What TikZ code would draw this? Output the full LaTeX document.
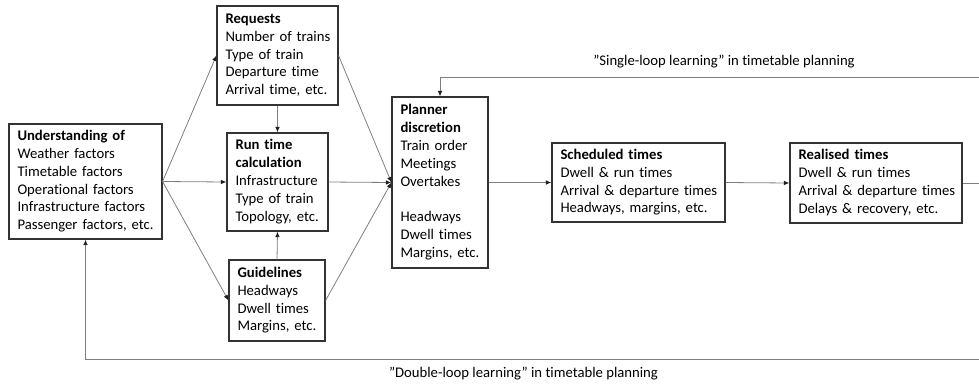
\documentclass[tikz,border=0pt]{standalone}
\usepackage{fontspec}
\setmainfont{Carlito}[Ligatures=NoCommon]
\usetikzlibrary{arrows.meta}

\definecolor{boxline}{HTML}{333333}
\definecolor{wire}{HTML}{7F7F7F}
\definecolor{tip}{HTML}{202020}

\tikzset{
  box/.style={draw=boxline, line width=1.1pt, align=left, inner xsep=8.5pt, inner ysep=0pt,
    font=\fontsize{14.7pt}{17.9pt}\selectfont,
    execute at begin node={\hyphenpenalty=10000\exhyphenpenalty=10000\hbadness=10000\hfuzz=20pt\strut},
    execute at end node=\strut},
  link/.style={draw=wire, line width=0.8pt, -{Latex[length=5.5pt,width=4.5pt,color=tip]}},
  plain/.style={draw=wire, line width=0.8pt},
  loopnote/.style={font=\fontsize{14.7pt}{17.9pt}\selectfont, inner sep=0pt}
}

\begin{document}
\begin{tikzpicture}[x=1pt, y=-1pt]
\useasboundingbox (0,0) rectangle (979,384);

% boxes (ties keep each listed item on one line)
\node[box, minimum width=153pt, minimum height=115pt, text width=136pt] (und) at (85.5,181.5)
  {\textbf{Understanding~of}\\Weather~factors\\Timetable~factors\\Operational~factors\\Infrastructure~factors\\Passenger~factors,~etc.};
\node[box, minimum width=121pt, minimum height=99pt, text width=104pt] (req) at (277.5,55.5)
  {\textbf{Requests}\\Number~of~trains\\Type~of~train\\Departure~time\\Arrival~time,~etc.};
\node[box, minimum width=101pt, minimum height=98pt, text width=84pt] (rt) at (277.5,182)
  {\textbf{Run~time}\\\textbf{calculation}\\Infrastructure\\Type~of~train\\Topology,~etc.};
\node[box, minimum width=96pt, minimum height=81pt, text width=79pt] (gl) at (277,300.5)
  {\textbf{Guidelines}\\Headways\\Dwell~times\\Margins,~etc.};
\node[box, minimum width=96pt, minimum height=171pt, text width=79pt] (pl) at (440,182.5)
  {\textbf{Planner}\\\textbf{discretion}\\Train~order\\Meetings\\Overtakes\\[17.9pt]Headways\\Dwell~times\\Margins,~etc.};
\node[box, minimum width=173pt, minimum height=79pt, text width=156pt] (sch) at (638.5,182.5)
  {\textbf{Scheduled~times}\\Dwell~\&~run~times\\Arrival~\&~departure~times\\Headways,~margins,~etc.};
\node[box, minimum width=172pt, minimum height=80pt, text width=155pt] (rea) at (876,183)
  {\textbf{Realised~times}\\Dwell~\&~run~times\\Arrival~\&~departure~times\\Delays~\&~recovery,~etc.};

% loop labels
\node[loopnote] (single) at (724,62) {”Single-loop learning” in timetable planning};
\node[loopnote] (double) at (523.5,374) {”Double-loop learning” in timetable planning};

% free ends at the right edge
\coordinate (sr) at (979,77);
\coordinate (dr) at (979,359);
\coordinate (out) at (979,183);

% inputs
\draw[link] (und.east) -- (req.west);
\draw[link] (und.east) -- (rt.west);
\draw[link] (und.east) -- (gl.west);
\draw[link] (req.south) -- (rt.north);
\draw[link] (gl.north) -- (rt.south);
\draw[link] (req.east) -- (pl.west);
\draw[link] (rt.east) -- (pl.west);
\draw[link] (gl.east) -- (pl.west);

% main chain
\draw[link] (pl.east) -- (sch.west);
\draw[link] (sch.east) -- (rea.west);
\draw[plain] (rea.east) -- (out);

% feedback loops
\draw[link] (sr) -- (pl.north |- sr) -- (pl.north);
\draw[link] (dr) -- (und.south |- dr) -- (und.south);
\end{tikzpicture}
\end{document}
